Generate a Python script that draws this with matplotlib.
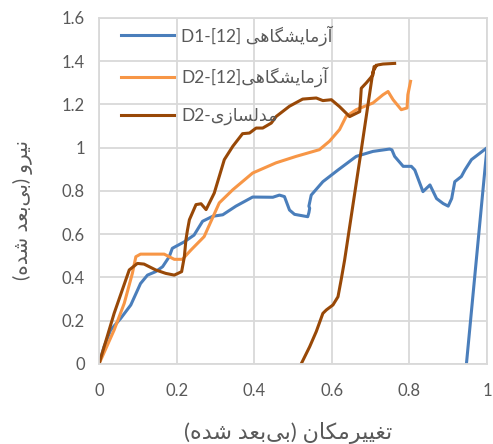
import numpy as np
import matplotlib
matplotlib.use('Agg')
import matplotlib.pyplot as plt

plt.rcParams['font.family'] = ['Lato', 'DejaVu Sans']

# --- data ---
d1_x = [0, 0.013, 0.03, 0.056, 0.082, 0.107, 0.125, 0.146, 0.164, 0.181, 0.189, 0.22, 0.245,
        0.267, 0.293, 0.319, 0.353, 0.396, 0.448, 0.465, 0.478, 0.491, 0.504, 0.538, 0.541,
        0.543, 0.541, 0.547, 0.577, 0.616, 0.663, 0.706, 0.749, 0.755, 0.762, 0.784, 0.805,
        0.814, 0.835, 0.853, 0.87, 0.887, 0.9, 0.909, 0.917, 0.934, 0.943, 0.96, 1.0, 0.947]
d1_y = [0, 0.08, 0.157, 0.211, 0.273, 0.372, 0.411, 0.427, 0.45, 0.496, 0.535, 0.565, 0.596,
        0.66, 0.683, 0.69, 0.73, 0.772, 0.771, 0.781, 0.774, 0.712, 0.692, 0.681, 0.70,
        0.72, 0.73, 0.781, 0.843, 0.897, 0.96, 0.983, 0.994, 0.99, 0.96, 0.914, 0.914,
        0.897, 0.797, 0.828, 0.765, 0.742, 0.73, 0.765, 0.843, 0.867, 0.897, 0.945, 1.0, 0]

d2_x = [0, 0.039, 0.065, 0.086, 0.095, 0.107, 0.168, 0.181, 0.194, 0.215, 0.237, 0.271,
        0.31, 0.345, 0.396, 0.456, 0.508, 0.568, 0.594, 0.62, 0.637, 0.663, 0.706, 0.732,
        0.745, 0.758, 0.779, 0.794, 0.796, 0.803]
d2_y = [0, 0.157, 0.28, 0.419, 0.496, 0.508, 0.508, 0.496, 0.484, 0.484, 0.527, 0.589,
        0.745, 0.806, 0.883, 0.93, 0.96, 0.991, 1.03, 1.084, 1.145, 1.176, 1.207, 1.245,
        1.26, 1.222, 1.176, 1.184, 1.245, 1.307]

sim_x = [0, 0.039, 0.078, 0.099, 0.116, 0.146, 0.172, 0.194, 0.213, 0.22, 0.224, 0.228,
         0.233, 0.25, 0.263, 0.276, 0.297, 0.323, 0.345, 0.37, 0.388, 0.405, 0.422, 0.444,
         0.457, 0.491, 0.525, 0.56, 0.577, 0.599, 0.62, 0.646, 0.672, 0.676, 0.689, 0.706,
         0.709, 0.719, 0.732, 0.762, np.nan,
         0.521, 0.543, 0.56, 0.577, 0.586, 0.603, 0.616, 0.624, 0.633, 0.676, 0.706, 0.715]
sim_y = [0, 0.234, 0.435, 0.465, 0.462, 0.435, 0.419, 0.411, 0.427, 0.496, 0.573, 0.619,
         0.667, 0.737, 0.741, 0.714, 0.79, 0.945, 1.007, 1.065, 1.068, 1.091, 1.091, 1.114,
         1.145, 1.192, 1.225, 1.23, 1.218, 1.222, 1.19, 1.144, 1.167, 1.275, 1.30, 1.336,
         1.375, 1.383, 1.387, 1.39, np.nan,
         0, 0.08, 0.15, 0.234, 0.25, 0.273, 0.311, 0.388, 0.48, 0.99, 1.352, 1.38]

x_ticks = [0, 0.2, 0.4, 0.6, 0.8, 1]
x_tick_labels = ['0', '0.2', '0.4', '0.6', '0.8', '1']
y_ticks = [0, 0.2, 0.4, 0.6, 0.8, 1, 1.2, 1.4, 1.6]
y_tick_labels = ['0', '0.2', '0.4', '0.6', '0.8', '1', '1.2', '1.4', '1.6']

# --- simple Persian shaping (matplotlib draws no joined Arabic by itself) ---
FORMS = {
    '\u0622': (0xFE81, 0xFE82), '\u0627': (0xFE8D, 0xFE8E),
    '\u062F': (0xFEA9, 0xFEAA), '\u0631': (0xFEAD, 0xFEAE),
    '\u0632': (0xFEAF, 0xFEB0), '\u0648': (0xFEED, 0xFEEE),
    '\u0628': (0xFE8F, 0xFE90, 0xFE91, 0xFE92), '\u062A': (0xFE95, 0xFE96, 0xFE97, 0xFE98),
    '\u0633': (0xFEB1, 0xFEB2, 0xFEB3, 0xFEB4), '\u0634': (0xFEB5, 0xFEB6, 0xFEB7, 0xFEB8),
    '\u0639': (0xFEC9, 0xFECA, 0xFECB, 0xFECC), '\u063A': (0xFECD, 0xFECE, 0xFECF, 0xFED0),
    '\u0644': (0xFEDD, 0xFEDE, 0xFEDF, 0xFEE0), '\u0645': (0xFEE1, 0xFEE2, 0xFEE3, 0xFEE4),
    '\u0646': (0xFEE5, 0xFEE6, 0xFEE7, 0xFEE8), '\u0647': (0xFEE9, 0xFEEA, 0xFEEB, 0xFEEC),
    '\u06A9': (0xFB8E, 0xFB8F, 0xFB90, 0xFB91), '\u06AF': (0xFB92, 0xFB93, 0xFB94, 0xFB95),
    '\u06CC': (0xFBFC, 0xFBFD, 0xFBFE, 0xFBFF),
}


def shape(text):
    out = []
    for i, ch in enumerate(text):
        if ch not in FORMS:
            if ch != '\u200c':
                out.append(ch)
            continue
        prev = text[i - 1] if i > 0 else ''
        nxt = text[i + 1] if i + 1 < len(text) else ''
        join_prev = prev in FORMS and len(FORMS[prev]) == 4
        join_next = len(FORMS[ch]) == 4 and nxt in FORMS
        f = FORMS[ch]
        if join_prev and join_next:
            out.append(chr(f[3]))
        elif join_prev:
            out.append(chr(f[1]))
        elif join_next:
            out.append(chr(f[2]))
        else:
            out.append(chr(f[0]))
    vis = ''.join(out)[::-1]
    return vis.translate(str.maketrans('()', ')('))


lab_d1 = 'D1-[12] ' + shape('آزمایشگاهی')
lab_d2 = 'D2-[12]' + shape('آزمایشگاهی')
lab_sim = 'D2-' + shape('مدلسازی')
x_label = shape('تغییرمکان (بی\u200cبعد شده)')
y_label = shape('نیرو (بی\u200cبعد شده)')

grey = '#595959'
grid = '#D9D9D9'

fig = plt.figure(figsize=(4.93, 4.44), dpi=100)
ax = fig.add_axes([0.2008, 0.1802, 0.787, 0.7793])

ax.plot(d1_x, d1_y, color='#4A7EBB', lw=2.2, label=lab_d1)
ax.plot(d2_x, d2_y, color='#F79646', lw=2.2, label=lab_d2)
ax.plot(sim_x, sim_y, color='#984807', lw=2.2, label=lab_sim)

ax.set_xlim(0, 1)
ax.set_ylim(0, 1.6)
ax.set_xticks(x_ticks)
ax.set_xticklabels(x_tick_labels)
ax.set_yticks(y_ticks)
ax.set_yticklabels(y_tick_labels)
ax.tick_params(length=0, colors=grey, labelsize=12)
ax.tick_params(axis='x', pad=14)
ax.tick_params(axis='y', pad=10)
ax.grid(True, color=grid, lw=1.3)
ax.set_axisbelow(True)
for s in ax.spines.values():
    s.set_color(grid)
    s.set_linewidth(1.3)

leg = ax.legend(loc='upper left', bbox_to_anchor=(0.04, 1.0), frameon=False,
                fontsize=12.5, handlelength=3.0, handletextpad=0.45, labelspacing=1.2,
                borderaxespad=0)
for t in leg.get_texts():
    t.set_color(grey)

fig.text(288 / 493, 1 - 433 / 444, x_label, ha='center', va='center', fontsize=16, color=grey)
fig.text(23 / 493, 1 - 210 / 444, y_label, ha='center', va='center', rotation=90,
         fontsize=14.5, color=grey)

fig.savefig('out.png', dpi=100)
